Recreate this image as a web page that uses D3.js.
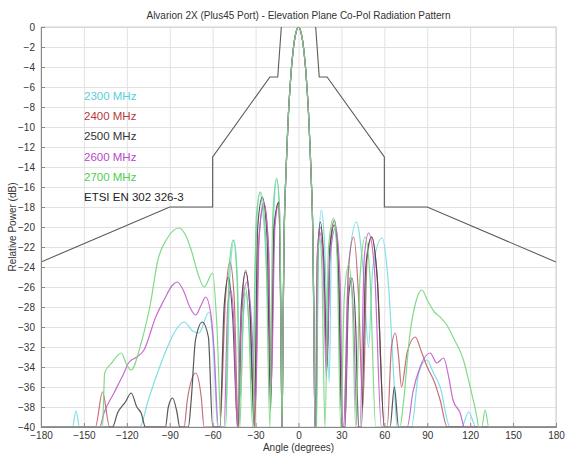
<!DOCTYPE html>
<meta charset="utf-8">
<script src="https://d3js.org/d3.v7.min.js"></script>
<style>
  body { margin: 0; background: #fff; }
  text { font-family: "Liberation Sans", Arial, sans-serif; }
</style>
<body>
<div id="canvas"></div>
<script>

// tick labels
var xTicks = [-180, -150, -120, -90, -60, -30, 0, 30, 60, 90, 120, 150, 180];
var yTicks = [0, -2, -4, -6, -8, -10, -12, -14, -16, -18, -20, -22, -24, -26, -28, -30, -32, -34, -36, -38, -40];

// legend names
var names = ["2300 MHz", "2400 MHz", "2500 MHz", "2600 MHz", "2700 MHz", "ETSI EN 302 326-3"];

// main beam (same shape for every frequency)
var mainLobe = [[-11.5, -40], [-10.8, -30], [-10, -20.5], [-9, -15.5], [-8, -11.8], [-7, -8.6], [-6, -6.2], [-5, -4.2], [-4, -2.7], [-3, -1.5], [-2, -0.7], [0, 0],
  [2, -0.7], [3, -1.5], [4, -2.7], [5, -4.2], [6, -6.2], [7, -8.6], [8, -11.8], [9, -15.5], [10, -20.5], [10.8, -30], [11.5, -40]];

// [angle, dB] per frequency, side lobes only
var s2300 = [[-180, -40], [-158, -40], [-155.6, -38.4], [-153, -40], [-111, -40], [-105, -37.3], [-98.6, -34.6], [-91.6, -32], [-87, -30.6], [-80, -29.5], [-74, -30.4], [-69.6, -30.6], [-62.6, -28.5], [-59.5, -32], [-56.5, -40], [-51, -40], [-48, -25], [-45, -21.3], [-42.5, -26], [-40.5, -37], [-38.5, -29], [-36.5, -26.5], [-34.5, -30], [-32.3, -35.6], [-30, -22], [-27, -16.5], [-24, -20], [-19, -32.3], [-17, -17.5], [-15.2, -15.3], [-13.5, -17.5], [-12.3, -28],
  [12.4, -40], [14, -22], [16, -18.3], [18, -21], [21.5, -35.5], [23, -22], [25, -19.3], [27.5, -22], [30.5, -40], [31.5, -40], [35, -24], [40.5, -19.5], [45, -24], [49, -32], [52, -24], [58.4, -21.1], [63, -26], [67, -36], [69, -40], [79, -40], [84, -34.6], [89.8, -33.3], [94, -34.5], [99, -36], [106, -40], [114, -40], [119, -38.5], [124, -40], [180, -40]];

var s2400 = [[-180, -40], [-142, -40], [-137, -36.5], [-132, -40], [-80, -40], [-77.7, -37.3], [-71.9, -34.6], [-68, -37], [-66, -40], [-55, -40], [-51, -27], [-48, -23.5], [-45, -27], [-42, -40], [-40, -30], [-37, -24.3], [-34, -28], [-30.5, -40], [-28, -22], [-24.2, -17.6], [-21, -22], [-19.5, -36], [-17, -20], [-13.7, -17.5], [-12.3, -30],
  [12.3, -40], [13.5, -23], [15.5, -20], [17.5, -23], [20, -33], [22, -22], [25, -19.3], [28, -24], [30.5, -40], [31.5, -40], [35, -24], [38.6, -21], [42, -27], [45, -38], [48, -23], [51.4, -21], [55, -25], [60, -40], [62, -40], [65, -32], [67.7, -30.6], [70, -33], [72, -36], [76, -32.5], [81.6, -31], [86, -32.5], [90, -34], [95, -35.5], [99, -37.3], [104, -40], [180, -40]];

var s2500 = [[-180, -40], [-130, -40], [-126.5, -38.6], [-121, -37.5], [-117, -36.6], [-113, -38], [-110, -38.6], [-107, -40], [-93, -40], [-91, -38], [-88, -37.1], [-85, -38.5], [-83, -40], [-77, -40], [-75, -37.3], [-72, -31.3], [-67.2, -29.5], [-63, -31], [-60, -40], [-55, -40], [-52, -28], [-49, -25], [-46, -29], [-42.5, -40], [-40, -28], [-37, -24.5], [-34, -28], [-31, -40], [-28.5, -20], [-25.3, -17], [-22, -21], [-19.5, -38.3], [-17, -20], [-13.7, -17.5], [-12.3, -30],
  [12, -40], [13.3, -23], [15.3, -19.5], [17.5, -23], [20, -34], [22, -22], [25, -19.8], [28, -25], [30.5, -40], [32.5, -40], [35, -27], [37.4, -25.1], [40, -30], [42, -40], [44, -40], [47, -24], [51, -21], [55, -25], [60, -40], [64, -40], [67, -36], [70, -40], [180, -40]];

var s2600 = [[-180, -40], [-139, -40], [-136, -38.6], [-129, -36.6], [-122, -34.6], [-118.4, -33.5], [-113, -33], [-108, -32.3], [-99.8, -29], [-94, -27.3], [-88, -25.8], [-84.7, -25.5], [-80, -26.5], [-76, -28], [-71.9, -28.8], [-68, -27.8], [-64.9, -27], [-61.5, -28.5], [-59, -32.3], [-56, -40], [-52, -40], [-49.5, -28], [-47.4, -26.3], [-45, -30], [-42.8, -40], [-40, -29], [-36, -25.5], [-33, -29], [-30, -37.6], [-27.5, -21], [-24.2, -17.6], [-21, -22], [-19, -36], [-16.5, -20], [-14, -17.8], [-12.4, -28],
  [11.8, -40], [13, -23], [14.8, -20.5], [17, -23], [19.5, -35], [22, -23], [26, -20.1], [29, -25], [31, -40], [32.5, -40], [34.5, -27], [36.3, -25], [38.5, -29], [41, -40], [43, -40], [46, -23], [49, -20.6], [53, -24], [58, -40], [76, -40], [80, -36.5], [85, -34], [92, -32.6], [96.7, -33.6], [101.4, -33.1], [105, -35], [108, -37.3], [113, -38.6], [116, -40], [180, -40]];

var s2700 = [[-180, -40], [-137, -40], [-135.5, -34.6], [-130, -33.5], [-124, -32.6], [-120, -33.8], [-117, -34.3], [-110, -31.6], [-103.3, -27.5], [-98.6, -23.5], [-91.6, -21.1], [-83.5, -20.1], [-79, -20.8], [-75, -22.3], [-70, -24.8], [-66, -26], [-60, -24.6], [-57, -30], [-54, -40], [-51, -40], [-48.5, -24], [-45.6, -21.3], [-43, -25], [-41, -40], [-39, -30], [-37, -26], [-35, -29], [-32, -40], [-29.5, -19], [-26.5, -16.5], [-23, -21], [-20, -40], [-18, -19], [-15.3, -15.1], [-13, -19], [-12, -34],
  [12.6, -40], [13.6, -23], [14.8, -21], [16.3, -24], [18.5, -40], [21, -22], [24.5, -19.1], [27, -23], [29.5, -40], [32, -27], [35, -23.8], [37.5, -27], [40, -40], [43, -25], [46.5, -21], [50, -25], [54, -40], [71, -40], [73, -38], [78, -30.6], [82, -27.5], [86.3, -26.3], [90, -27.3], [95, -28.5], [99, -29], [103.7, -29.8], [108, -31], [115.3, -33.3], [120, -36], [124.7, -39], [126, -40], [128, -40], [130.5, -38.3], [133, -40], [180, -40]];

// ETSI EN 302 326-3 mask (runs off the top of the plot near boresight)
var etsi = [[-180, -23.5], [-90, -18], [-60, -18], [-60, -13], [-20, -5], [-14.5, -5], [-12, 0], [-11.5, 3], [11.5, 3], [12, 0], [14.5, -5], [20, -5], [60, -13], [60, -18], [90, -18], [180, -23.5]];

var series = [s2300, s2400, s2500, s2600, s2700];
var lineColors = ["#72dce4", "#c0606c", "#454545", "#c25ccc", "#74d67c"];
var textColors = ["#55d0da", "#b8383c", "#333333", "#b848c8", "#4cd04c", "#222222"];

var width = 568;
var height = 458;
var margin = {top: 27, right: 12, bottom: 31, left: 41};
var w = width - margin.left - margin.right;
var h = height - margin.top - margin.bottom;

var svg = d3.select('#canvas')
    .append("svg")
    .attr("width", width)
    .attr("height", height);

var g = svg.append("g")
    .attr("transform", "translate(" + margin.left + "," + margin.top + ")");

var x = d3.scaleLinear().domain([-180, 180]).range([0, w]);
var y = d3.scaleLinear().domain([-40, 0]).range([h, 0]);

// grid ----------------------------------------------------------
g.append("g")
    .attr("class", "grid")
    .attr("transform", "translate(0," + h + ")")
    .call(d3.axisBottom(x).tickValues(xTicks).tickSize(-h).tickFormat(""))
    .call(function(s) { s.select(".domain").remove(); })
    .selectAll("line").attr("stroke", "#e2e2e2");

g.append("g")
    .attr("class", "grid")
    .call(d3.axisLeft(y).tickValues(yTicks).tickSize(-w).tickFormat(""))
    .call(function(s) { s.select(".domain").remove(); })
    .selectAll("line").attr("stroke", "#e2e2e2");

// frame top/right
g.append("rect")
    .attr("width", w).attr("height", h)
    .attr("fill", "none").attr("stroke", "#d0d0d0");

// curves --------------------------------------------------------
g.append("clipPath").attr("id", "clip")
    .append("rect").attr("x", 0).attr("y", 0).attr("width", w).attr("height", h + 1);

var line = d3.line()
    .x(function(d) { return x(d[0]); })
    .y(function(d) { return y(Math.max(-40, d[1])); })
    .curve(d3.curveMonotoneX);

var plot = g.append("g").attr("clip-path", "url(#clip)");

series.forEach(function(s, i) {
    // put the main beam in, sorted by angle
    var pts = s.concat(mainLobe).sort(function(a, b) { return a[0] - b[0]; });
    plot.append("path")
        .attr("d", line(pts))
        .attr("fill", "none")
        .attr("stroke", lineColors[i])
        .attr("stroke-width", 1.2)
        .attr("stroke-opacity", 0.9);
});

plot.append("path")
    .attr("d", d3.line().x(function(d) { return x(d[0]); }).y(function(d) { return y(d[1]); })(etsi))
    .attr("fill", "none")
    .attr("stroke", "#5a5a5a")
    .attr("stroke-width", 1.1);

// axes ----------------------------------------------------------
var xAxis = g.append("g")
    .attr("transform", "translate(0," + h + ")")
    .call(d3.axisBottom(x).tickValues(xTicks).tickSize(-4).tickPadding(5));
var yAxis = g.append("g")
    .call(d3.axisLeft(y).tickValues(yTicks).tickSize(-4).tickPadding(6));

[xAxis, yAxis].forEach(function(a) {
    a.select(".domain").attr("stroke", "#888");
    a.selectAll(".tick line").attr("stroke", "#888");
    a.selectAll("text").attr("fill", "#333").style("font-size", "10px")
        .style("font-family", "'Liberation Sans', Arial, sans-serif");
});

// labels --------------------------------------------------------
svg.append("text")
    .attr("x", margin.left + x(0))
    .attr("y", 19)
    .attr("text-anchor", "middle")
    .attr("fill", "#333")
    .style("font-size", "10px")
    .text("Alvarion 2X (Plus45 Port) - Elevation Plane Co-Pol Radiation Pattern");

svg.append("text")
    .attr("x", margin.left + x(0))
    .attr("y", 451)
    .attr("text-anchor", "middle")
    .attr("fill", "#333")
    .style("font-size", "10px")
    .text("Angle (degrees)");

svg.append("text")
    .attr("transform", "translate(16," + (margin.top + h / 2) + ") rotate(-90)")
    .attr("text-anchor", "middle")
    .attr("fill", "#333")
    .style("font-size", "10px")
    .text("Relative Power (dB)");

// legend text ---------------------------------------------------
svg.selectAll(".leg")
    .data(names)
    .enter()
    .append("text")
    .attr("class", "leg")
    .attr("x", 84)
    .attr("y", function(d, i) { return 100 + i * 20.2; })
    .attr("fill", function(d, i) { return textColors[i]; })
    .style("font-size", "11.5px")
    .text(function(d) { return d; });

</script>
</body>
